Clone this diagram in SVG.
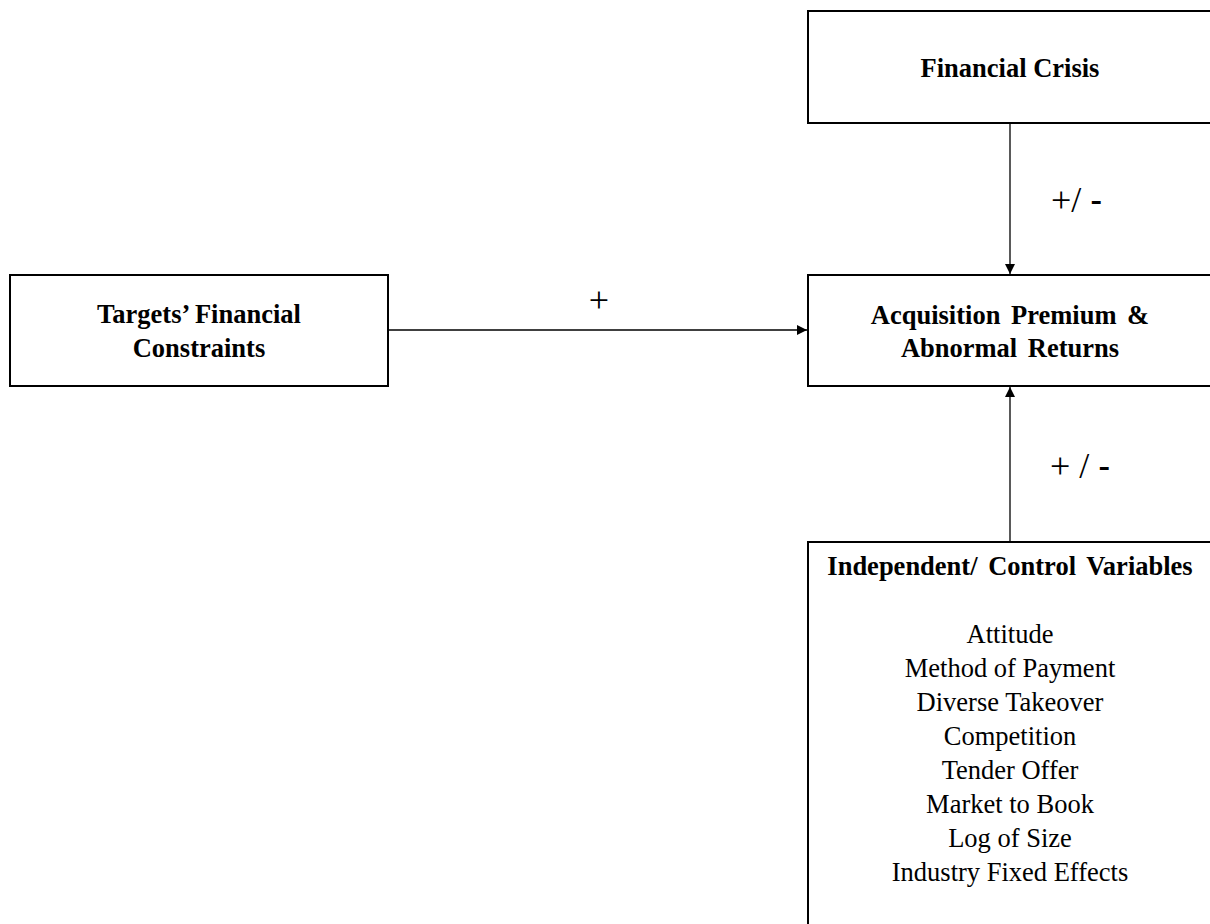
<svg xmlns="http://www.w3.org/2000/svg" width="1210" height="924" viewBox="0 0 1210 924">
<style>
.box{fill:#fff;stroke:#000;stroke-width:2}
.t{font-family:"Liberation Serif","Times New Roman",serif;font-size:26.5px;fill:#000;text-anchor:middle}
.b{font-weight:bold}
.c{stroke:#000;stroke-width:1.3;fill:none}
.lbl{font-family:"Liberation Serif",serif;font-size:36px;fill:#000}
.dash{font-family:"Liberation Sans",Arial,sans-serif}
</style>
<defs>
<marker id="ah" viewBox="0 0 10 10" refX="10" refY="5" markerWidth="10" markerHeight="10" markerUnits="userSpaceOnUse" orient="auto">
<path d="M0,0 L10,5 L0,10 Z" fill="#000"/>
</marker>
</defs>
<rect width="1210" height="924" fill="#fff"/>
<g id="connectors">
<line class="c" x1="388" y1="330" x2="807" y2="330" marker-end="url(#ah)"/>
<line class="c" x1="1010" y1="123" x2="1010" y2="274" marker-end="url(#ah)"/>
<line class="c" x1="1010" y1="542" x2="1010" y2="387" marker-end="url(#ah)"/>
<text class="lbl" x="599" y="312" text-anchor="middle">+</text>
<text class="lbl" x="1051" y="212">+/ <tspan class="dash">-</tspan></text>
<text class="lbl" x="1050" y="478">+ / <tspan class="dash">-</tspan></text>
</g>
<g id="financial-crisis">
<rect class="box" x="808" y="11" width="410" height="112"/>
<text class="t b" x="1010" y="77">Financial Crisis</text>
</g>
<g id="targets">
<rect class="box" x="10" y="275" width="378" height="111"/>
<text class="t b" x="199" y="323">Targets’ Financial</text>
<text class="t b" x="199" y="357">Constraints</text>
</g>
<g id="acquisition">
<rect class="box" x="808" y="275" width="410" height="111"/>
<text class="t b" x="1010" y="324" word-spacing="4">Acquisition Premium &amp;</text>
<text class="t b" x="1010" y="357" word-spacing="4">Abnormal Returns</text>
</g>
<g id="controls">
<rect class="box" x="808" y="542" width="410" height="400"/>
<text class="t b" x="1010" y="575" word-spacing="4">Independent/ Control Variables</text>
<text class="t" x="1010" y="643">Attitude</text>
<text class="t" x="1010" y="677">Method of Payment</text>
<text class="t" x="1010" y="711">Diverse Takeover</text>
<text class="t" x="1010" y="745">Competition</text>
<text class="t" x="1010" y="779">Tender Offer</text>
<text class="t" x="1010" y="813">Market to Book</text>
<text class="t" x="1010" y="847">Log of Size</text>
<text class="t" x="1010" y="881">Industry Fixed Effects</text>
</g>
</svg>
